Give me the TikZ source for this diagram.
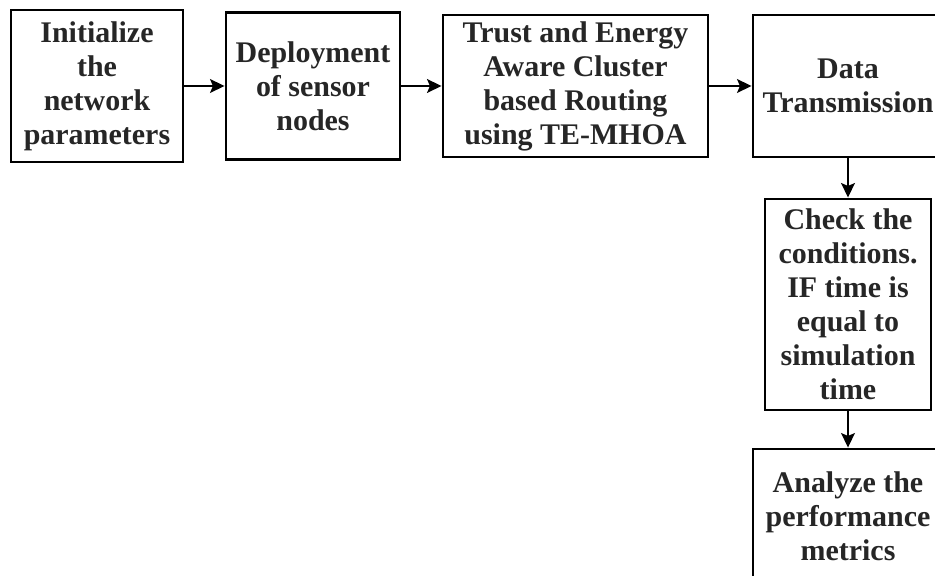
\documentclass[tikz,border=0pt]{standalone}
\usepackage{fontspec}
\setmainfont{Liberation Serif}
\usepackage{tikz}
\usetikzlibrary{arrows.meta,positioning}

\begin{document}
\begin{tikzpicture}[
    x=0.025cm, y=-0.025cm,
    stage/.style={draw=black, line width=2pt, fill=white, inner sep=0pt, align=center,
        text=black!85, font=\fontsize{21.3}{24.2}\selectfont\bfseries},
    flow/.style={-{Stealth[length=0.36cm, width=0.34cm, inset=0.07cm]}, line width=1.8pt}
]
\useasboundingbox (0,0) rectangle (935,576);
\clip (0,0) rectangle (935,576);
\node[stage, minimum width=4.3cm, minimum height=3.8cm] (init) at (97,86) {Initialize\\the\\network\\parameters};
\node[stage, minimum width=4.35cm, minimum height=3.675cm] (deploy) at (313,86) {Deployment\\of sensor\\nodes};
\node[stage, minimum width=6.625cm, minimum height=3.55cm] (route) at (575.5,86) {Trust and Energy\\Aware Cluster\\based Routing\\using TE-MHOA};
\node[stage, minimum width=4.75cm, minimum height=3.55cm] (trans) at (848,86) {Data\\Transmission};
\node[stage, minimum width=4.15cm, minimum height=5.275cm] (check) at (848,304.5) {Check the\\conditions.\\IF time is\\equal to\\simulation\\time};
\node[stage, minimum width=4.75cm, minimum height=3.35cm] (metric) at (848,516) {Analyze the\\performance\\metrics};
\draw[flow] (init) -- (deploy);
\draw[flow] (deploy) -- (route);
\draw[flow] (route) -- (trans);
\draw[flow] (trans) -- (check);
\draw[flow] (check) -- (metric);
\end{tikzpicture}
\end{document}
